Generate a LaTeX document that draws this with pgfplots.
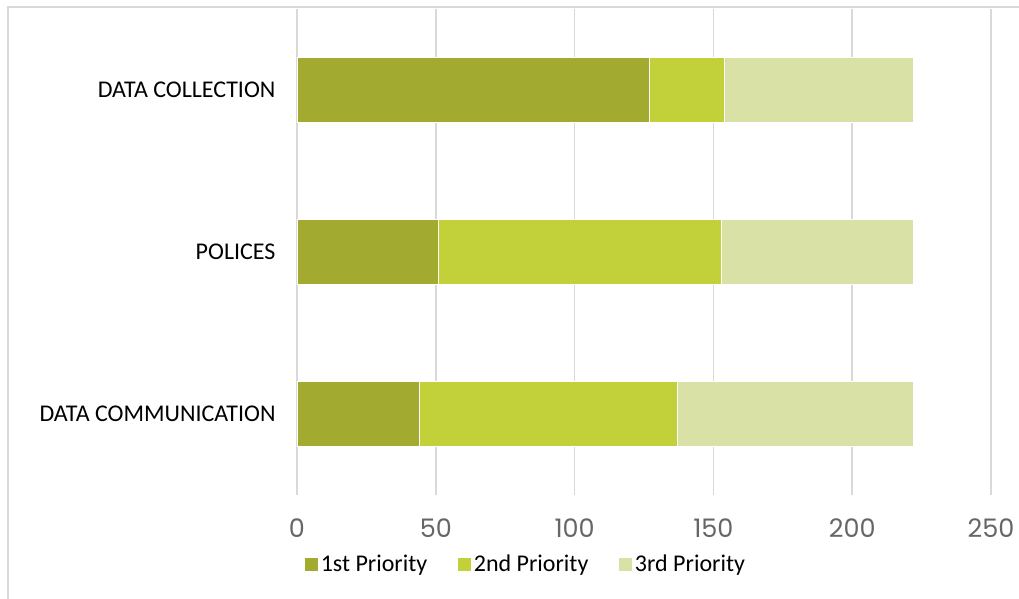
\documentclass[border=0pt]{standalone}
\usepackage{pgfplots}
\pgfplotsset{compat=1.18}
\usepackage{fontspec}
\setmainfont{Carlito}
\newfontfamily\tickfont{Poppins}
\definecolor{cA}{HTML}{A2AA30}
\definecolor{cB}{HTML}{C2D03A}
\definecolor{cC}{HTML}{D9E1A6}
\definecolor{gridc}{HTML}{D9D9D9}
\definecolor{tickc}{HTML}{666666}
\begin{document}
\begin{tikzpicture}[x=1pt,y=1pt]
\useasboundingbox (0,0) rectangle (1019,599);
\draw[gridc, line width=1.5pt] (8,-5) -- (8,592) -- (1030,592);
\begin{axis}[
  at={(297pt,104pt)}, anchor=south west,
  scale only axis, width=694pt, height=486pt,
  xbar stacked,
  bar width=65pt,
  xmin=0, xmax=250,
  ymin=-0.5, ymax=2.5,
  ytick={0,1,2},
  yticklabels={DATA COMMUNICATION, POLICES, DATA COLLECTION},
  yticklabel style={font=\fontsize{24}{26}\selectfont, text=black},
  xtick={0,50,100,150,200,250},
  xticklabel style={font=\tickfont\fontsize{25.5}{27}\selectfont, text=tickc, yshift=-20pt},
  /pgf/number format/assume math mode=true,
  xmajorgrids, grid style={gridc, line width=1.5pt},
  axis line style={draw=none},
  major tick length=0pt,
  y tick label style={xshift=-18pt},
  legend style={at={(0.0058,-0.142)}, anchor=west, draw=none, fill=none,
    font=\fontsize{24}{26}\selectfont, legend columns=-1,
    /tikz/every even column/.append style={column sep=28pt}},
  legend image code/.code={\fill[#1] (0pt,-7pt) rectangle (14pt,7pt);},
  clip=false,
]
\addplot[fill=cA, draw=white, line width=0.6pt] coordinates {(44,0) (51,1) (127,2)};
\addplot[fill=cB, draw=white, line width=0.6pt] coordinates {(93,0) (102,1) (27,2)};
\addplot[fill=cC, draw=white, line width=0.6pt] coordinates {(85,0) (69,1) (68,2)};
\legend{1st Priority, 2nd Priority, 3rd Priority}
\end{axis}
\end{tikzpicture}
\end{document}
